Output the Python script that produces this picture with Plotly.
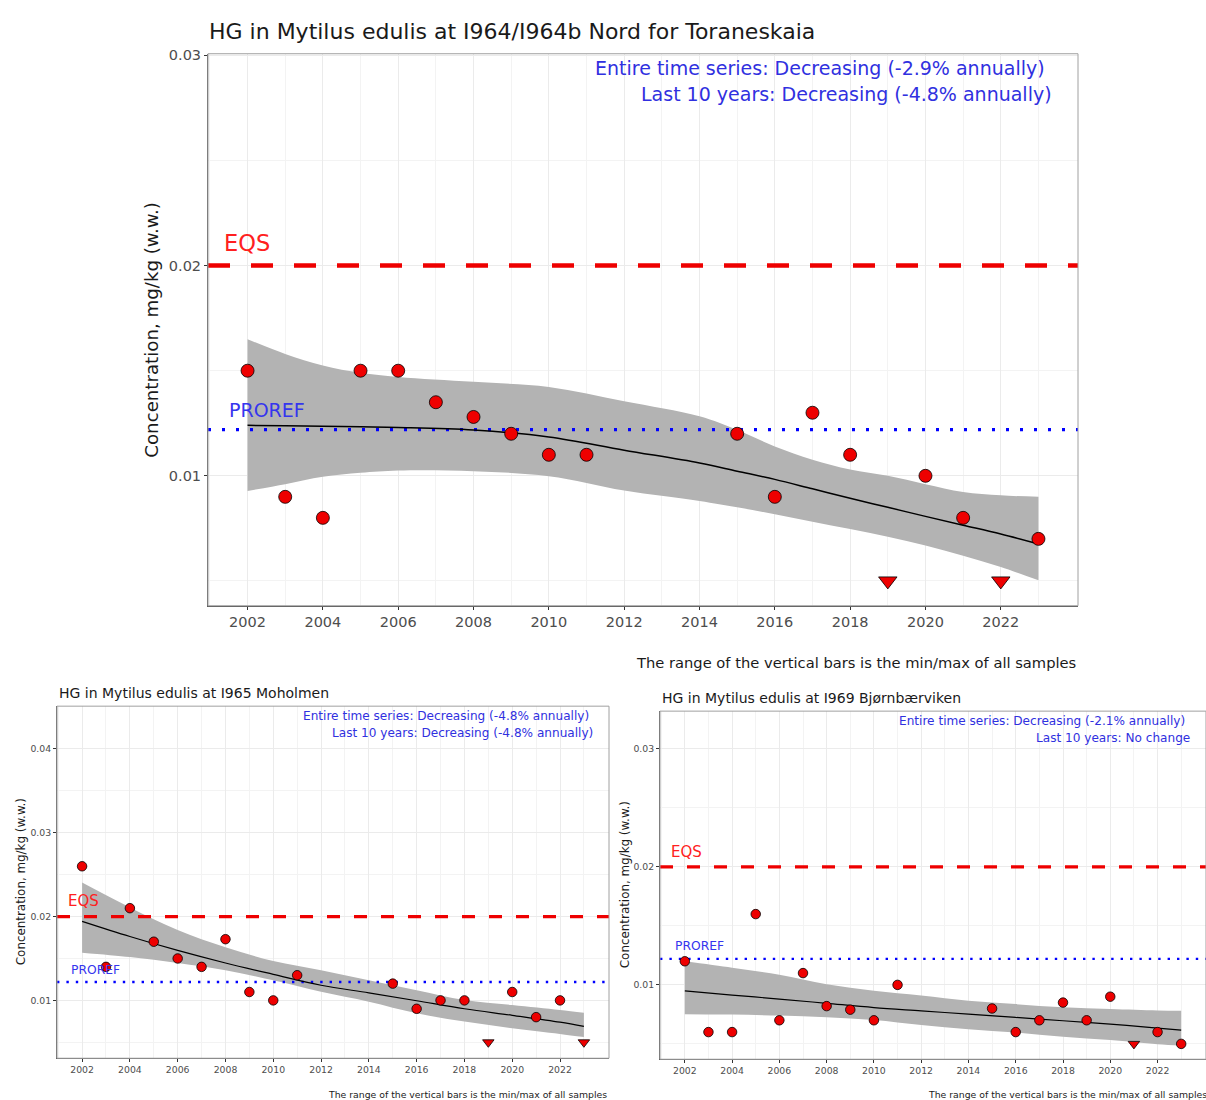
import plotly.graph_objects as go

W, H = 1206, 1100
FONT = "DejaVu Sans"

# ---------------- data ----------------
EQS = 0.02
PROREF = 0.0122

# Panel 1: I964/I964b Nord for Toraneskaia
p1_years = [2002, 2003, 2004, 2005, 2006, 2007, 2008, 2009, 2010, 2011,
            2015, 2016, 2017, 2018, 2019, 2020, 2021, 2022, 2023]
p1_values = [0.015, 0.009, 0.008, 0.015, 0.015, 0.0135, 0.0128, 0.012, 0.011, 0.011,
             0.012, 0.009, 0.013, 0.011, 0.005, 0.010, 0.008, 0.005, 0.007]
p1_below = [0, 0, 0, 0, 0, 0, 0, 0, 0, 0,
            0, 0, 0, 0, 1, 0, 0, 1, 0]
p1_fit_years = [2002, 2003, 2004, 2005, 2006, 2008, 2010, 2012, 2014, 2015,
                2016, 2017, 2018, 2019, 2020, 2021, 2022, 2023]
p1_fit = [0.0124, 0.01238, 0.01236, 0.01233, 0.0123, 0.01218, 0.01185, 0.01122, 0.01061, 0.01022,
          0.00983, 0.00938, 0.00893, 0.0085, 0.00807, 0.00765, 0.00723, 0.00676]
p1_upper = [0.0165, 0.0158, 0.01525, 0.0149, 0.0147, 0.01447, 0.01423, 0.01355, 0.01283, 0.01218,
            0.0114, 0.01077, 0.0103, 0.0100, 0.0096, 0.00923, 0.00907, 0.0090]
p1_lower = [0.00928, 0.0096, 0.00995, 0.01014, 0.01025, 0.01022, 0.00998, 0.0093, 0.0088, 0.0085,
            0.00817, 0.00782, 0.00747, 0.0071, 0.00668, 0.0062, 0.00566, 0.00503]

# Panel 2: I965 Moholmen
p2_years = [2002, 2003, 2004, 2005, 2006, 2007, 2008, 2009, 2010, 2011,
            2015, 2016, 2017, 2018, 2019, 2020, 2021, 2022, 2023]
p2_values = [0.026, 0.014, 0.021, 0.017, 0.015, 0.014, 0.0173, 0.011, 0.010, 0.013,
             0.012, 0.009, 0.010, 0.010, 0.005, 0.011, 0.008, 0.010, 0.005]
p2_below = [0, 0, 0, 0, 0, 0, 0, 0, 0, 0,
            0, 0, 0, 0, 1, 0, 0, 0, 1]
p2_fit_years = [2002, 2004, 2006, 2008, 2010, 2012, 2014, 2016, 2018, 2020, 2022, 2023]
p2_fit = [0.01943, 0.01762, 0.01596, 0.01446, 0.01311, 0.01181, 0.0109, 0.00996, 0.00900, 0.00822, 0.0074, 0.0069]
p2_upper = [0.02405, 0.02109, 0.01841, 0.01635, 0.01469, 0.0136, 0.0124, 0.01122, 0.01004, 0.00944, 0.00885, 0.00853]
p2_lower = [0.01569, 0.01517, 0.01446, 0.0136, 0.0124, 0.01102, 0.00984, 0.00846, 0.00747, 0.00668, 0.006, 0.00562]

# Panel 3: I969 Bjørnbærviken
p3_years = [2002, 2003, 2004, 2005, 2006, 2007, 2008, 2009, 2010, 2011,
            2015, 2016, 2017, 2018, 2019, 2020, 2021, 2022, 2023]
p3_values = [0.012, 0.006, 0.006, 0.016, 0.007, 0.011, 0.0082, 0.0079, 0.007, 0.010,
             0.008, 0.006, 0.007, 0.0085, 0.007, 0.009, 0.005, 0.006, 0.005]
p3_below = [0, 0, 0, 0, 0, 0, 0, 0, 0, 0,
            0, 0, 0, 0, 0, 0, 1, 0, 0]
p3_fit_years = [2002, 2004, 2006, 2008, 2010, 2012, 2014, 2016, 2018, 2020, 2022, 2023]
p3_fit = [0.00949, 0.00914, 0.0088, 0.00844, 0.00808, 0.0078, 0.00752, 0.00724, 0.00696, 0.00668, 0.00634, 0.00617]
p3_upper = [0.0120, 0.01146, 0.01085, 0.01006, 0.0095, 0.0091, 0.00865, 0.00837, 0.0081, 0.00795, 0.00783, 0.0078]
p3_lower = [0.00752, 0.00748, 0.0074, 0.00725, 0.00702, 0.0066, 0.00625, 0.00597, 0.0056, 0.00532, 0.00497, 0.00484]

titles = ["HG in Mytilus edulis at I964/I964b Nord for Toraneskaia",
          "HG in Mytilus edulis at I965 Moholmen",
          "HG in Mytilus edulis at I969 Bjørnbærviken"]
trend_full = ["Entire time series: Decreasing (-2.9% annually)",
              "Entire time series: Decreasing (-4.8% annually)",
              "Entire time series: Decreasing (-2.1% annually)"]
trend_10 = ["Last 10 years: Decreasing (-4.8% annually)",
            "Last 10 years: Decreasing (-4.8% annually)",
            "Last 10 years: No change"]
caption = "The range of the vertical bars is the min/max of all samples"
ytitle = "Concentration, mg/kg (w.w.)"

# ---------------- layout helpers ----------------
def px_x(p):
    return p / W

def px_y(p):
    return 1 - p / H

panels = [
    dict(data=(p1_years, p1_values, p1_below, p1_fit_years, p1_fit, p1_upper, p1_lower),
         box=(208, 1078, 48, 603), yrange=[0.00382, 0.03008], ytickvals=[0.01, 0.02, 0.03],
         msize=13, tsize=16, lw=1.5, eqs_w=4.5, eqs_dash="22px,21px", pro_w=3.2, pro_dash="3px,11px",
         tick_font=14.5, title=dict(x=207, y=26, size=22), yt=dict(x=152, size=18.2),
         tr1=dict(x=1047, y=62), tr2=dict(x=1054, y=88), tr_size=19,
         cap=dict(x=1078, y=660, size=14.7),
         eqs=dict(x=222, y=238, size=22.5), pro=dict(x=227, y=406, size=19)),
    dict(data=(p2_years, p2_values, p2_below, p2_fit_years, p2_fit, p2_upper, p2_lower),
         box=(57, 609, 704, 1058), yrange=[0.0031, 0.0451], ytickvals=[0.01, 0.02, 0.03, 0.04],
         msize=9.5, tsize=10, lw=1.2, eqs_w=3.2, eqs_dash="13px,14px", pro_w=2.4, pro_dash="2.4px,7px",
         tick_font=9.3, title=dict(x=57, y=691, size=14), yt=dict(x=21, size=11.9),
         tr1=dict(x=591, y=714), tr2=dict(x=595, y=731), tr_size=12.1,
         cap=dict(x=609, y=1094, size=9.3),
         eqs=dict(x=66, y=900, size=15), pro=dict(x=69, y=969, size=12.3)),
    dict(data=(p3_years, p3_values, p3_below, p3_fit_years, p3_fit, p3_upper, p3_lower),
         box=(660, 1206, 709, 1059), yrange=[0.0037, 0.0332], ytickvals=[0.01, 0.02, 0.03],
         msize=9.5, tsize=10, lw=1.2, eqs_w=3.2, eqs_dash="13px,14px", pro_w=2.4, pro_dash="2.4px,7px",
         tick_font=9.3, title=dict(x=660, y=696, size=14), yt=dict(x=625, size=11.9),
         tr1=dict(x=1187, y=719), tr2=dict(x=1192, y=736), tr_size=12.1,
         cap=dict(x=1209, y=1094, size=9.3),
         eqs=dict(x=669, y=851, size=15), pro=dict(x=673, y=945, size=12.3)),
]

XR = [2000.95, 2024.05]
RED = "#ee0000"
BLUE_LINE = "#0000ff"
BLUE_TXT = "#3030e0"

fig = go.Figure()
annotations = []

for i, pn in enumerate(panels):
    n = "" if i == 0 else str(i + 1)
    xa, ya = "x" + n, "y" + n
    yrs, vals, below, fy, fit, up, lo = pn["data"]
    l, r, t, b = pn["box"]

    # confidence band
    fig.add_trace(go.Scatter(x=fy, y=lo, mode="lines", line=dict(width=0, color="#b3b3b3", shape="spline"),
                             hoverinfo="skip", showlegend=False, xaxis=xa, yaxis=ya))
    fig.add_trace(go.Scatter(x=fy, y=up, mode="lines", line=dict(width=0, color="#b3b3b3", shape="spline"),
                             fill="tonexty", fillcolor="#b3b3b3", hoverinfo="skip", showlegend=False,
                             xaxis=xa, yaxis=ya))
    # EQS and PROREF lines
    fig.add_trace(go.Scatter(x=XR, y=[EQS, EQS], mode="lines",
                             line=dict(color=RED, width=pn["eqs_w"], dash=pn["eqs_dash"]),
                             showlegend=False, xaxis=xa, yaxis=ya))
    fig.add_trace(go.Scatter(x=XR, y=[PROREF, PROREF], mode="lines",
                             line=dict(color=BLUE_LINE, width=pn["pro_w"], dash=pn["pro_dash"]),
                             showlegend=False, xaxis=xa, yaxis=ya))
    # fitted line
    fig.add_trace(go.Scatter(x=fy, y=fit, mode="lines", line=dict(color="black", width=pn["lw"], shape="spline"),
                             showlegend=False, xaxis=xa, yaxis=ya))
    # points
    cx = [y for y, f in zip(yrs, below) if f == 0]
    cv = [v for v, f in zip(vals, below) if f == 0]
    tx = [y for y, f in zip(yrs, below) if f == 1]
    tv = [v for v, f in zip(vals, below) if f == 1]
    fig.add_trace(go.Scatter(x=cx, y=cv, mode="markers",
                             marker=dict(symbol="circle", size=pn["msize"], color="#ee0000",
                                         line=dict(color="black", width=0.8)),
                             showlegend=False, xaxis=xa, yaxis=ya))
    fig.add_trace(go.Scatter(x=tx, y=tv, mode="markers",
                             marker=dict(symbol="triangle-down", size=pn["tsize"], color="#ee0000",
                                         line=dict(color="black", width=0.8)),
                             showlegend=False, xaxis=xa, yaxis=ya))

    axis_common = dict(showline=True, linecolor="#5a5a5a", linewidth=1, mirror=False,
                       ticks="outside", ticklen=3, tickcolor="#333333", tickwidth=1,
                       tickfont=dict(family=FONT, size=pn["tick_font"], color="#4d4d4d"),
                       gridcolor="#ebebeb", gridwidth=1, zeroline=False)
    fig.update_layout(**{
        ("xaxis" + n): dict(domain=[px_x(l), px_x(r)], range=XR, anchor=ya,
                            tickmode="array", tickvals=list(range(2002, 2023, 2)),
                            minor=dict(tickmode="array", tickvals=list(range(2001, 2025, 2)),
                                       showgrid=True, gridcolor="#f3f3f3", gridwidth=1, ticks=""),
                            **axis_common),
        ("yaxis" + n): dict(domain=[px_y(b), px_y(t)], range=pn["yrange"], anchor=xa,
                            tickmode="array", tickvals=pn["ytickvals"],
                            ticktext=[f"{v:.2f}" for v in pn["ytickvals"]],
                            minor=dict(tickmode="array",
                                       tickvals=[0.005, 0.015, 0.025, 0.035, 0.045],
                                       showgrid=True, gridcolor="#f3f3f3", gridwidth=1, ticks=""),
                            **axis_common),
    })
    # panel border (top and right)
    fig.add_shape(type="rect", xref="paper", yref="paper",
                  x0=px_x(l), x1=px_x(r), y0=px_y(b), y1=px_y(t),
                  line=dict(color="#a0a0a0", width=1), layer="above")

    # texts
    annotations += [
        dict(text=titles[i], x=px_x(pn["title"]["x"]), y=px_y(pn["title"]["y"]),
             xanchor="left", yanchor="middle", font=dict(family=FONT, size=pn["title"]["size"], color="#1a1a1a")),
        dict(text=ytitle, x=px_x(pn["yt"]["x"]), y=px_y((t + b) / 2), textangle=-90,
             xanchor="center", yanchor="middle", font=dict(family=FONT, size=pn["yt"]["size"], color="#1a1a1a")),
        dict(text=trend_full[i], x=px_x(pn["tr1"]["x"]), y=px_y(pn["tr1"]["y"]),
             xanchor="right", yanchor="middle", font=dict(family=FONT, size=pn["tr_size"], color=BLUE_TXT)),
        dict(text=trend_10[i], x=px_x(pn["tr2"]["x"]), y=px_y(pn["tr2"]["y"]),
             xanchor="right", yanchor="middle", font=dict(family=FONT, size=pn["tr_size"], color=BLUE_TXT)),
        dict(text=caption, x=px_x(pn["cap"]["x"]), y=px_y(pn["cap"]["y"]),
             xanchor="right", yanchor="middle", font=dict(family=FONT, size=pn["cap"]["size"], color="#1a1a1a")),
        dict(text="EQS", x=px_x(pn["eqs"]["x"]), y=px_y(pn["eqs"]["y"]),
             xanchor="left", yanchor="middle", font=dict(family=FONT, size=pn["eqs"]["size"], color="#ff2020")),
        dict(text="PROREF", x=px_x(pn["pro"]["x"]), y=px_y(pn["pro"]["y"]),
             xanchor="left", yanchor="middle", font=dict(family=FONT, size=pn["pro"]["size"], color="#3535ee")),
    ]

for a in annotations:
    a.update(xref="paper", yref="paper", showarrow=False)

fig.update_layout(width=W, height=H, margin=dict(l=0, r=0, t=0, b=0),
                  paper_bgcolor="white", plot_bgcolor="white",
                  annotations=annotations, showlegend=False,
                  font=dict(family=FONT))

fig.write_html("out.html", config={"displayModeBar": False},
               post_script="document.body.style.margin='0';document.body.style.overflow='hidden';")
